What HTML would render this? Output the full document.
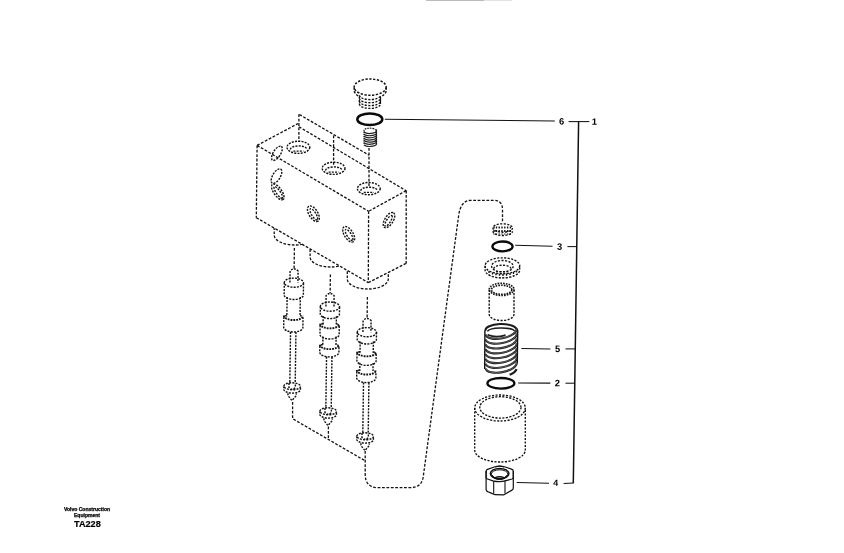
<!DOCTYPE html>
<html><head><meta charset="utf-8"><title>TA228</title>
<style>
html,body{margin:0;padding:0;background:#fff;}
body{width:844px;height:553px;overflow:hidden;position:relative;font-family:"Liberation Sans",sans-serif;}
svg{position:absolute;left:0;top:0;display:block}
body{filter:grayscale(1)}
svg *{fill:none;stroke:#111;stroke-linecap:butt}
svg text{fill:#000;stroke:none;font-family:"Liberation Sans",sans-serif;font-weight:bold}
.d{stroke-width:1.3;stroke-dasharray:2.8 1.6}
  .d2{stroke-width:1.3;stroke-dasharray:2.7 1.5}
.d3{stroke-width:1.5;stroke-dasharray:2.3 1.5}
.s{stroke-width:1.4;stroke-dasharray:2.0 1.2}
.s2{stroke-width:1.9;stroke-dasharray:1.8 1.0}
.s3{stroke-width:1.35;stroke-dasharray:2.1 1.4}
.s4{stroke-width:1.6;stroke-dasharray:1.6 1.1}
.k{stroke-width:1.1}
.k1{stroke-width:1.2}
.ring{stroke:#0a0a0a}
.cap{position:absolute;left:37px;width:100px;text-align:center;font-weight:bold;color:#000;white-space:nowrap;line-height:1}
</style></head><body>
<svg width="844" height="553" viewBox="0 0 844 553">
<line x1="426" y1="0.3" x2="484" y2="0.3" style="stroke:#aaa;stroke-width:1"/>
<line x1="484" y1="0.3" x2="512" y2="0.3" style="stroke:#ddd;stroke-width:1"/>
<path d="M257.1,145.4 L297.9,123.6" class="d" />
<path d="M298.9,126.69999999999999 L406.2,190.79999999999998" class="d" />
<path d="M406.2,190.6 L368.6,211.3" class="d" />
<path d="M257.1,145.4 L368.6,211.3" class="d" />
<path d="M257.1,145.4 L256.3,217.7" class="d" />
<path d="M368.6,211.3 L368.3,282.6" class="d" />
<path d="M406.2,190.6 L406.2,263.4" class="d" />
<path d="M256.3,217.7 L368.3,282.6" class="d" />
<path d="M368.3,282.6 L406.2,263.4" class="d" />
<path d="M298.9,114.3 L298.9,142" class="d" />
<path d="M299.4,114.5 L369,155.2" class="d" />
<path d="M333.6,135.5 L333.6,166" class="d" />
<path d="M369,148 L369,186" class="d" />
<ellipse cx="298.4" cy="147.3" rx="11.4" ry="6.1" class="s" />
<path d="M290.4,149.5 A8.3,3.6 0 0 1 307.0,149.5" class="s" />
<path d="M293.4,151.10000000000002 L303.4,151.10000000000002" class="s" />
<ellipse cx="333.6" cy="168.3" rx="11.4" ry="6.1" class="s" />
<path d="M325.6,170.5 A8.3,3.6 0 0 1 342.20000000000005,170.5" class="s" />
<path d="M328.6,172.10000000000002 L338.6,172.10000000000002" class="s" />
<ellipse cx="368.8" cy="188.6" rx="11.4" ry="6.1" class="s" />
<path d="M360.8,190.79999999999998 A8.3,3.6 0 0 1 377.40000000000003,190.79999999999998" class="s" />
<path d="M363.8,192.4 L373.8,192.4" class="s" />
<ellipse cx="276.9" cy="153.3" rx="8.2" ry="3.6" class="s" transform="rotate(-57 276.9 153.3)" />
<ellipse cx="276.5" cy="176.1" rx="8.2" ry="3.8" class="s" transform="rotate(-59 276.5 176.1)" />
<ellipse cx="277.8" cy="191.9" rx="9.3" ry="4.0" class="s" transform="rotate(55 277.8 191.9)" />
<ellipse cx="278.3" cy="192.4" rx="7.0" ry="2.0" class="s" transform="rotate(55 278.3 192.4)" />
<ellipse cx="313.4" cy="213.7" rx="8.8" ry="4.4" class="s" transform="rotate(58 313.4 213.7)" />
<ellipse cx="313.79999999999995" cy="214.29999999999998" rx="6.4" ry="2.2" class="s" transform="rotate(58 313.79999999999995 214.29999999999998)" />
<ellipse cx="348.7" cy="234.3" rx="8.8" ry="4.4" class="s" transform="rotate(58 348.7 234.3)" />
<ellipse cx="349.09999999999997" cy="234.9" rx="6.4" ry="2.2" class="s" transform="rotate(58 349.09999999999997 234.9)" />
<ellipse cx="389" cy="220.1" rx="8.6" ry="4.2" class="s" transform="rotate(-58 389 220.1)" />
<ellipse cx="388.6" cy="220.8" rx="6.2" ry="2.0" class="s" transform="rotate(-58 388.6 220.8)" />
<clipPath id="cb"><polygon points="240,208.3 256.3,217.7 368.3,282.6 406.2,263.4 430,251 430,310 240,310"/></clipPath>
<g clip-path="url(#cb)">
<path d="M274.2,223 L274.2,235 A20.5,10 0 0 0 315.2,235 L315.2,223" class="d2" />
<path d="M310.1,245 L310.1,257 A20.5,10 0 0 0 351.1,257 L351.1,245" class="d2" />
<path d="M347.3,267 L347.3,279 A20.5,10 0 0 0 388.3,279 L388.3,267" class="d2" />
</g>
<g transform="rotate(0.8 294.4 248)">
<path d="M294.4,248 L294.4,268.4" class="d" />
<path d="M290.4,282.6 L290.4,270.9 Q294.4,266.9 298.4,270.9 L298.4,282.6" class="s" />
<ellipse cx="294.4" cy="282.70000000000005" rx="9.6" ry="4.6" class="s" />
<path d="M284.79999999999995,282.70000000000005 L284.79999999999995,294.9 A9.6,4.6 0 0 0 304.0,294.9 L304.0,282.70000000000005" class="s" />
<path d="M287.79999999999995,297.0 L287.79999999999995,316.5" class="s" />
<path d="M301.0,297.0 L301.0,316.5" class="s" />
<path d="M287.79999999999995,315.5 Q284.79999999999995,315.5 284.79999999999995,319.1 L284.79999999999995,327.4 A9.6,4.6 0 0 0 304.0,327.4 L304.0,319.1 Q304.0,315.5 301.0,315.5" class="s" />
<path d="M284.79999999999995,315.7 A9.6,4.369999999999999 0 0 0 304.0,315.7" class="s2" />
<path d="M291.7,332 L291.7,382.5" class="s" />
<path d="M297.09999999999997,332 L297.09999999999997,382.5" class="s" />
<ellipse cx="294.09999999999997" cy="386.3" rx="8.3" ry="3.5" class="s" />
<path d="M285.79999999999995,386.3 L285.79999999999995,389.6 A8.3,3.5 0 0 0 302.4,389.6 L302.4,386.3" class="s" />
<path d="M289.7,393.4 L290.49999999999994,396.3 L294.09999999999997,400.6 L297.7,396.3 L298.49999999999994,393.4" class="s" />
<path d="M290.9,383.0 L290.9,387.5 Q294.09999999999997,391.0 297.29999999999995,387.5 L297.29999999999995,383.0" class="s" />
</g>
<g transform="rotate(0.8 330.4 274.5)">
<path d="M330.4,274.5 L330.4,293" class="d" />
<path d="M326.4,306.5 L326.4,295.5 Q330.4,291.5 334.4,295.5 L334.4,306.5" class="s" />
<ellipse cx="330.4" cy="306.6" rx="9.6" ry="4.6" class="s" />
<path d="M320.79999999999995,306.6 L320.79999999999995,314.0 A9.6,4.6 0 0 0 340.0,314.0 L340.0,306.6" class="s" />
<path d="M323.79999999999995,316.1 L323.79999999999995,324.8" class="s" />
<path d="M337.0,316.1 L337.0,324.8" class="s" />
<path d="M323.79999999999995,323.8 Q320.79999999999995,323.8 320.79999999999995,327.40000000000003 L320.79999999999995,334.4 A9.6,4.6 0 0 0 340.0,334.4 L340.0,327.40000000000003 Q340.0,323.8 337.0,323.8" class="s" />
<path d="M320.79999999999995,324.0 A9.6,4.369999999999999 0 0 0 340.0,324.0" class="s2" />
<path d="M323.79999999999995,336.5 L323.79999999999995,345.6" class="s" />
<path d="M337.0,336.5 L337.0,345.6" class="s" />
<path d="M323.79999999999995,344.6 Q320.79999999999995,344.6 320.79999999999995,348.20000000000005 L320.79999999999995,352.29999999999995 A9.6,4.6 0 0 0 340.0,352.29999999999995 L340.0,348.20000000000005 Q340.0,344.6 337.0,344.6" class="s" />
<path d="M320.79999999999995,344.8 A9.6,4.369999999999999 0 0 0 340.0,344.8" class="s2" />
<path d="M327.7,356.9 L327.7,407.5" class="s" />
<path d="M333.09999999999997,356.9 L333.09999999999997,407.5" class="s" />
<ellipse cx="330.09999999999997" cy="411.3" rx="8.3" ry="3.5" class="s" />
<path d="M321.79999999999995,411.3 L321.79999999999995,414.6 A8.3,3.5 0 0 0 338.4,414.6 L338.4,411.3" class="s" />
<path d="M325.7,418.4 L326.49999999999994,421.3 L330.09999999999997,425.6 L333.7,421.3 L334.49999999999994,418.4" class="s" />
<path d="M326.9,408.0 L326.9,412.5 Q330.09999999999997,416.0 333.29999999999995,412.5 L333.29999999999995,408.0" class="s" />
</g>
<g transform="rotate(0.8 367.4 297)">
<path d="M367.4,297 L367.4,318" class="d" />
<path d="M363.4,332.1 L363.4,320.5 Q367.4,316.5 371.4,320.5 L371.4,332.1" class="s" />
<ellipse cx="367.4" cy="332.20000000000005" rx="9.6" ry="4.6" class="s" />
<path d="M357.79999999999995,332.20000000000005 L357.79999999999995,339.4 A9.6,4.6 0 0 0 377.0,339.4 L377.0,332.20000000000005" class="s" />
<path d="M360.79999999999995,341.5 L360.79999999999995,352.8" class="s" />
<path d="M374.0,341.5 L374.0,352.8" class="s" />
<path d="M360.79999999999995,351.8 Q357.79999999999995,351.8 357.79999999999995,355.40000000000003 L357.79999999999995,360.79999999999995 A9.6,4.6 0 0 0 377.0,360.79999999999995 L377.0,355.40000000000003 Q377.0,351.8 374.0,351.8" class="s" />
<path d="M357.79999999999995,352.0 A9.6,4.369999999999999 0 0 0 377.0,352.0" class="s2" />
<path d="M360.79999999999995,362.9 L360.79999999999995,371" class="s" />
<path d="M374.0,362.9 L374.0,371" class="s" />
<path d="M360.79999999999995,370 Q357.79999999999995,370 357.79999999999995,373.6 L357.79999999999995,378.0 A9.6,4.6 0 0 0 377.0,378.0 L377.0,373.6 Q377.0,370 374.0,370" class="s" />
<path d="M357.79999999999995,370.2 A9.6,4.369999999999999 0 0 0 377.0,370.2" class="s2" />
<path d="M364.7,382.6 L364.7,432.5" class="s" />
<path d="M370.09999999999997,382.6 L370.09999999999997,432.5" class="s" />
<ellipse cx="367.09999999999997" cy="436.3" rx="8.3" ry="3.5" class="s" />
<path d="M358.79999999999995,436.3 L358.79999999999995,439.6 A8.3,3.5 0 0 0 375.4,439.6 L375.4,436.3" class="s" />
<path d="M362.7,443.4 L363.49999999999994,446.3 L367.09999999999997,450.6 L370.7,446.3 L371.49999999999994,443.4" class="s" />
<path d="M363.9,433.0 L363.9,437.5 Q367.09999999999997,441.0 370.29999999999995,437.5 L370.29999999999995,433.0" class="s" />
</g>
<path d="M292.6,402 L292.6,418.7 L364.8,460.6" class="d" />
<path d="M328.4,426.5 L328.4,439" class="d" />
<path d="M365.2,451 L365.2,474 Q365.2,487.7 378,487.7 L410,487.7 Q421.6,487.7 423.2,477 L458.6,216 Q460.6,200.3 471,200.3 L493.5,200.3 Q502.5,200.3 502.5,209.5 L502.5,222.5" class="d" />
<ellipse cx="370.2" cy="87.1" rx="16" ry="8.1" class="d3" />
<path d="M354.2,87.5 L354.2,90.3 A16,8.1 0 0 0 360.2,96.8" class="d3" />
<path d="M386.2,87.5 L386.2,90.3 A16,8.1 0 0 1 380.2,96.8" class="d3" />
<path d="M359.4,95.2 A10.6,4.4 0 0 0 380.6,95.2" class="s3" />
<path d="M359.4,98.3 A10.6,4.4 0 0 0 380.6,98.3" class="s3" />
<path d="M359.4,101.2 A10.6,4.4 0 0 0 380.6,101.2" class="s3" />
<path d="M359.4,104.0 A10.6,4.4 0 0 0 380.6,104.0" class="s3" />
<path d="M359.4,96.5 L359.4,104" class="s3" />
<path d="M380.5,97 L380.5,104" class="k1" />
<ellipse cx="369.8" cy="119.3" rx="12.5" ry="5.8" class="ring" style="stroke-width:2.5"/>
<path d="M363.9,132.0 A6,2.4 0 0 0 375.9,129.6" class="k"  style="stroke-width:1.25;stroke:#222"/>
<path d="M363.9,134.15 A6,2.4 0 0 0 375.9,131.75" class="k"  style="stroke-width:1.25;stroke:#222"/>
<path d="M363.9,136.3 A6,2.4 0 0 0 375.9,133.9" class="k"  style="stroke-width:1.25;stroke:#222"/>
<path d="M363.9,138.45 A6,2.4 0 0 0 375.9,136.04999999999998" class="k"  style="stroke-width:1.25;stroke:#222"/>
<path d="M363.9,140.6 A6,2.4 0 0 0 375.9,138.2" class="k"  style="stroke-width:1.25;stroke:#222"/>
<path d="M363.9,142.75 A6,2.4 0 0 0 375.9,140.35" class="k"  style="stroke-width:1.25;stroke:#222"/>
<path d="M363.9,144.9 A6,2.4 0 0 0 375.9,142.5" class="k"  style="stroke-width:1.25;stroke:#222"/>
<path d="M364.4,131.4 A5.6,2.2 0 0 1 375.4,129.6" class="k" style="stroke-width:1.1;stroke-dasharray:1.6 0.9"/>
<path d="M364,131.5 L364,144 M375.9,129.5 L375.9,142.5" class="k" style="stroke-width:1.0;stroke-dasharray:1.4 0.8"/>
<ellipse cx="502.7" cy="228.0" rx="9.8" ry="4.2" class="s3" />
<path d="M492.9,231.3 A9.8,4.2 0 0 0 512.5,231.3" class="s3" />
<path d="M494,226.5 L494,234.5" class="s3" />
<path d="M496.5,226.5 L496.5,234.5" class="s3" />
<path d="M499.2,226.5 L499.2,234.5" class="s3" />
<path d="M502,226.5 L502,234.5" class="s3" />
<path d="M504.8,226.5 L504.8,234.5" class="s3" />
<path d="M507.6,226.5 L507.6,234.5" class="s3" />
<path d="M510.4,226.5 L510.4,234.5" class="s3" />
<ellipse cx="502.5" cy="246.4" rx="10.1" ry="4.9" class="ring" style="stroke-width:2.3"/>
<ellipse cx="502.4" cy="265.8" rx="17.3" ry="8.0" class="s3" />
<path d="M485.1,265.8 L485.1,270.0 A17.3,8.0 0 0 0 519.7,270.0 L519.7,265.8" class="s3" />
<ellipse cx="502.4" cy="266.2" rx="10.8" ry="5.7" class="s3" />
<path d="M493.79999999999995,268.8 A8.6,3.6 0 0 1 511.0,268.8" class="s3" />
<path d="M496,271.6 L508,271.6" class="s3" />
<path d="M489,270.9 L489,275.1" class="s3" />
<path d="M492.5,272.4 L492.5,276.6" class="s3" />
<path d="M496,273.2 L496,277.4" class="s3" />
<path d="M499.5,273.7 L499.5,277.9" class="s3" />
<path d="M503,273.8 L503,278.0" class="s3" />
<path d="M506.5,273.6 L506.5,277.8" class="s3" />
<path d="M510,273.0 L510,277.2" class="s3" />
<path d="M513.5,271.9 L513.5,276.1" class="s3" />
<path d="M516.5,270.4 L516.5,274.6" class="s3" />
<ellipse cx="501.6" cy="289.4" rx="12.4" ry="6.1" class="s4" />
<ellipse cx="501.6" cy="289.8" rx="10.2" ry="4.5" class="s4" />
<path d="M489.2,289.6 L489.2,314.3 A12.4,6.2 0 0 0 514.0,314.3 L514.0,289.6" class="s3" />
<g transform="rotate(0 501.2 330.4)">
<path d="M485.4,331.0 A15.8,6.5 0 0 1 517.0,330.0" class="k" style="stroke-width:2.0;stroke:#1c1c1c"/>
</g>
<g transform="rotate(0 501.2 330.4)">
<path d="M487.9,331.59999999999997 A13.3,3.4 0 0 1 514.5,331.0" class="k" style="stroke-width:1.5;stroke:#1c1c1c"/>
</g>
<g transform="rotate(-11 501.2 331.5)">
<path d="M485.4,331.5 A15.8,6.8 0 0 0 517.0,331.5" class="k" style="stroke-width:2.1;stroke:#1c1c1c"/>
<path d="M485.4,331.5 A15.8,6.8 0 0 0 517.0,331.5" class="k" style="stroke-width:0.35;stroke:#bdbdbd"/>
</g>
<g transform="rotate(-11 501.2 336.35)">
<path d="M485.4,336.35 A15.8,6.8 0 0 0 517.0,336.35" class="k" style="stroke-width:2.1;stroke:#1c1c1c"/>
<path d="M485.4,336.35 A15.8,6.8 0 0 0 517.0,336.35" class="k" style="stroke-width:0.35;stroke:#bdbdbd"/>
</g>
<g transform="rotate(-11 501.2 341.2)">
<path d="M485.4,341.2 A15.8,6.8 0 0 0 517.0,341.2" class="k" style="stroke-width:2.1;stroke:#1c1c1c"/>
<path d="M485.4,341.2 A15.8,6.8 0 0 0 517.0,341.2" class="k" style="stroke-width:0.35;stroke:#bdbdbd"/>
</g>
<g transform="rotate(-11 501.2 346.05)">
<path d="M485.4,346.05 A15.8,6.8 0 0 0 517.0,346.05" class="k" style="stroke-width:2.1;stroke:#1c1c1c"/>
<path d="M485.4,346.05 A15.8,6.8 0 0 0 517.0,346.05" class="k" style="stroke-width:0.35;stroke:#bdbdbd"/>
</g>
<g transform="rotate(-11 501.2 350.9)">
<path d="M485.4,350.9 A15.8,6.8 0 0 0 517.0,350.9" class="k" style="stroke-width:2.1;stroke:#1c1c1c"/>
<path d="M485.4,350.9 A15.8,6.8 0 0 0 517.0,350.9" class="k" style="stroke-width:0.35;stroke:#bdbdbd"/>
</g>
<g transform="rotate(-11 501.2 355.75)">
<path d="M485.4,355.75 A15.8,6.8 0 0 0 517.0,355.75" class="k" style="stroke-width:2.1;stroke:#1c1c1c"/>
<path d="M485.4,355.75 A15.8,6.8 0 0 0 517.0,355.75" class="k" style="stroke-width:0.35;stroke:#bdbdbd"/>
</g>
<g transform="rotate(-11 501.2 360.6)">
<path d="M485.4,360.6 A15.8,6.8 0 0 0 517.0,360.6" class="k" style="stroke-width:2.1;stroke:#1c1c1c"/>
<path d="M485.4,360.6 A15.8,6.8 0 0 0 517.0,360.6" class="k" style="stroke-width:0.35;stroke:#bdbdbd"/>
</g>
<g transform="rotate(-11 501.2 365.45)">
<path d="M485.4,365.45 A15.8,6.8 0 0 0 517.0,365.45" class="k" style="stroke-width:2.1;stroke:#1c1c1c"/>
<path d="M485.4,365.45 A15.8,6.8 0 0 0 517.0,365.45" class="k" style="stroke-width:0.35;stroke:#bdbdbd"/>
</g>
<g transform="rotate(-11 501.2 370.3)">
<path d="M508.62,376.30 A15.8,6.8 0 0 0 516.51,371.98" class="k" style="stroke-width:2.2;stroke:#1c1c1c"/>
</g>
<path d="M488.4,335.0 Q495.2,338.0 504.8,335.29999999999995" class="k" style="stroke-width:1.9;stroke:#1c1c1c;stroke-linecap:round"/>
<path d="M484.9,330.9 L484.7,368.95" class="k" style="stroke-width:1.4"/>
<path d="M517.7,329.79999999999995 L517.3,362.95" class="k" style="stroke-width:1.4"/>
<ellipse cx="500.9" cy="383.3" rx="13.5" ry="5.3" class="ring" style="stroke-width:2.3"/>
<ellipse cx="500.0" cy="408.0" rx="25.3" ry="13.0" class="s3" />
<ellipse cx="500.4" cy="407.4" rx="20.6" ry="10.7" class="s3" />
<path d="M474.7,408 L474.7,450 A25.3,12 0 0 0 525.3,450 L525.3,408" class="s3" />
<path d="M486.1,471.2 Q486.1,470 487.5,469.4 L494.2,467.0 Q499.7,465.3 505.2,467.0 L512,469.4 Q513.3,470 513.3,471.2 L513.3,477.6 Q513.3,478.6 512,479 L506,480.6 Q499.6,482.6 493,480.8 L487.4,479 Q486.1,478.6 486.1,477.6 Z" class="k" style="stroke-width:1.2"/>
<ellipse cx="499.6" cy="473.6" rx="9.3" ry="5.2" class="k" style="stroke-width:1.45"/>
<ellipse cx="499.6" cy="474.2" rx="8.3" ry="4.4" class="k" style="stroke-width:1.0"/>
<path d="M492.20000000000005,475.0 A7.4,3.8 0 0 0 507.0,475.0" class="k" style="stroke-width:1.0"/>
<path d="M493.1,475.9 A6.5,3.3 0 0 0 506.1,475.9" class="k" style="stroke-width:1.0"/>
<path d="M494.0,476.8 A5.6,2.7 0 0 0 505.20000000000005,476.8" class="k" style="stroke-width:0.9"/>
<path d="M495.0,478.9 A4.6,2.1 0 0 1 504.20000000000005,478.9" class="k" style="stroke-width:1.5"/>
<path d="M495.4,467.0 Q499.7,465.0 504.0,467.0" class="k" style="stroke-width:1.0"/>
<path d="M486.1,471 L486.1,489.6 Q486.3,491.3 488,491.8 L492.3,493.6 Q493.7,494.6 495,494.6 L503.6,494.8 Q505,494.6 506.2,493.4 L511.6,490.4 Q513.3,489.6 513.3,488 L513.3,471" class="k" style="stroke-width:1.2"/>
<path d="M493.7,481 L493.7,493.8 M505,480.8 L505,493.6" class="k" style="stroke-width:1.1"/>
<path d="M384.8,119.3 L554.8,121.0" class="k" style="stroke-width:1.05"/>
<path d="M568.6,121.6 L589.3,121.6" class="k" style="stroke-width:1.05"/>
<path d="M578.6,121.2 L573.3,483.2" class="k" style="stroke-width:1.5"/>
<path d="M515.2,245.3 L552.5,246.3" class="k" style="stroke-width:1.05"/>
<path d="M567.4,246.6 L576.6,246.6" class="k" style="stroke-width:1.05"/>
<path d="M521.4,348.4 L550.3,348.9" class="k" style="stroke-width:1.05"/>
<path d="M565.5,348.9 L575.3,348.9" class="k" style="stroke-width:1.05"/>
<path d="M518.2,382.9 L550.3,383.1" class="k" style="stroke-width:1.05"/>
<path d="M565.5,383.2 L574.6,383.2" class="k" style="stroke-width:1.05"/>
<path d="M516.7,482.6 L549,483.3" class="k" style="stroke-width:1.05"/>
<path d="M563.6,483.6 L573.4,483.0" class="k" style="stroke-width:1.05"/>
<text x="561.7" y="124.6" font-size="9.3" text-anchor="middle" transform="rotate(0.8 561.7 124.6)">6</text>
<text x="594.4" y="124.7" font-size="9.3" text-anchor="middle" transform="rotate(0.8 594.4 124.7)">1</text>
<text x="559.7" y="249.8" font-size="9.3" text-anchor="middle" transform="rotate(0.8 559.7 249.8)">3</text>
<text x="557.7" y="352.0" font-size="9.3" text-anchor="middle" transform="rotate(0.8 557.7 352.0)">5</text>
<text x="557.3" y="386.4" font-size="9.3" text-anchor="middle" transform="rotate(0.8 557.3 386.4)">2</text>
<text x="555.7" y="485.8" font-size="8.8" text-anchor="middle" transform="rotate(0.8 555.7 485.8)">4</text>
</svg>
<div class="cap" style="top:506.6px;font-size:5.05px;-webkit-text-stroke:0.25px #000">Volvo Construction</div>
<div class="cap" style="top:513.2px;font-size:5.05px;-webkit-text-stroke:0.25px #000">Equipment</div>
<div class="cap" style="top:519.9px;font-size:9.1px;left:37.4px;-webkit-text-stroke:0.2px #000">TA228</div>
</body></html>
